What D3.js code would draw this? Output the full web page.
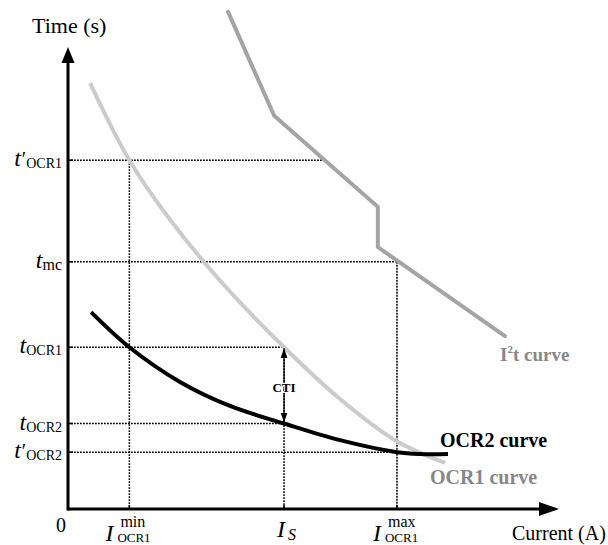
<!DOCTYPE html>
<html>
<head>
<meta charset="utf-8">
<script src="https://cdn.jsdelivr.net/npm/d3@7"></script>
<style>
  body { margin: 0; background: #fff; }
  svg { display: block; font-family: "Liberation Serif", "Times New Roman", serif; }
</style>
</head>
<body>
<div id="chart"></div>
<script>
// Characteristic curves (current in %, time in %, both relative units)
const ocr2Curve = [[4.7, 42.6], [12.5, 35], [22.8, 27.5], [33, 22.3], [44, 18.5], [55.4, 14.9], [67, 12.3], [71.7, 11.9], [77.4, 11.9]];
const ocr1Curve = [[4.5, 92.2], [12.5, 75.5], [20.8, 62.6], [31, 49.4], [44, 35], [55.4, 23.8], [66.6, 14.9], [76.8, 10.0]];
const i2tCurve = [[32.6, 107.6], [42, 85.1], [63.1, 65.4], [63.1, 56.7], [89, 37.4]];

// y ticks: t'OCR1, tmc, tOCR1, tOCR2, t'OCR2
const yTickVals = [75.5, 53.5, 35, 18.5, 12.3];
const yTickSubs = ["OCR1", "mc", "OCR1", "OCR2", "OCR2"];
const yTickPrime = [true, false, false, false, true];

// x ticks: Imin, Is, Imax
const xTickVals = [12.5, 44, 67];
const xTickSups = ["min", "", "max"];
const xTickSubs = ["OCR1", "S", "OCR1"];

// dotted guides: horizontal [time, current end], vertical [current, time start]
const hGuides = [[75.5, 52.3], [53.5, 67], [35, 44], [18.5, 44], [12.3, 67]];
const vGuides = [[12.5, 75.5], [44, 35], [67, 53.5]];

const W = 608, H = 545;
const svg = d3.select("#chart").append("svg").attr("width", W).attr("height", H);

const x = d3.scaleLinear().domain([0, 100]).range([68, 559]);
const y = d3.scaleLinear().domain([0, 100]).range([509, 47]);

// dotted guide lines
const dots = svg.append("g").attr("stroke", "#000").attr("stroke-width", 1.5).attr("stroke-dasharray", "1.8,1.2");
hGuides.forEach(function (d) {
    dots.append("line").attr("x1", x(0)).attr("x2", x(d[1])).attr("y1", y(d[0])).attr("y2", y(d[0]));
});
vGuides.forEach(function (d) {
    dots.append("line").attr("x1", x(d[0])).attr("x2", x(d[0])).attr("y1", y(d[1])).attr("y2", y(0));
});

// curves
const line = d3.line().x(d => x(d[0])).y(d => y(d[1]));
const smooth = d3.line().x(d => x(d[0])).y(d => y(d[1])).curve(d3.curveCatmullRom.alpha(0.5));

svg.append("path").datum(i2tCurve)
    .attr("fill", "none").attr("stroke", "#a4a4a4").attr("stroke-width", 4)
    .attr("stroke-linejoin", "miter").attr("stroke-linecap", "round").attr("d", line);

svg.append("path").datum(ocr1Curve)
    .attr("fill", "none").attr("stroke", "#cbcbcb").attr("stroke-width", 4).attr("d", smooth);

svg.append("path").datum(ocr2Curve)
    .attr("fill", "none").attr("stroke", "#000").attr("stroke-width", 4).attr("d", smooth);

// axes
svg.append("line").attr("x1", x(0)).attr("x2", x(100) - 18).attr("y1", y(0)).attr("y2", y(0))
    .attr("stroke", "#000").attr("stroke-width", 3);
svg.append("path")
    .attr("d", `M${x(100)},${y(0)} L${x(100) - 20},${y(0) - 7} L${x(100) - 20},${y(0) + 7} Z`);
svg.append("line").attr("x1", x(0)).attr("x2", x(0)).attr("y1", y(0) + 1.5).attr("y2", y(100) + 14)
    .attr("stroke", "#000").attr("stroke-width", 3);
svg.append("path")
    .attr("d", `M${x(0)},${y(100)} L${x(0) - 6.5},${y(100) + 16} L${x(0) + 6.5},${y(100) + 16} Z`);

// tick stubs
yTickVals.forEach(function (v) {
    svg.append("line").attr("x1", x(0)).attr("x2", x(0) + 5).attr("y1", y(v)).attr("y2", y(v))
        .attr("stroke", "#000").attr("stroke-width", 1.5);
});
xTickVals.forEach(function (v) {
    svg.append("line").attr("x1", x(v)).attr("x2", x(v)).attr("y1", y(0)).attr("y2", y(0) - 4)
        .attr("stroke", "#000").attr("stroke-width", 1.5);
});

// y tick labels
yTickVals.forEach(function (v, i) {
    const t = svg.append("text").attr("x", 62).attr("y", y(v) + 6).attr("text-anchor", "end");
    t.append("tspan").attr("font-style", "italic").attr("font-size", 24).text("t");
    if (yTickPrime[i]) t.append("tspan").attr("font-size", 20).attr("dx", 1).text("′");
    t.append("tspan").attr("font-size", yTickSubs[i] === "mc" ? 16 : 14).attr("dy", 2).text(yTickSubs[i]);
});

// x tick labels
xTickVals.forEach(function (v, i) {
    const g = svg.append("g").attr("transform", `translate(${x(v)},0)`);
    if (xTickSups[i]) {
        g.append("text").attr("x", -24).attr("y", 541).attr("font-style", "italic").attr("font-size", 24).text("I");
        g.append("text").attr("x", -9).attr("y", 527).attr("font-size", 16).text(xTickSups[i]);
        g.append("text").attr("x", -12).attr("y", 542).attr("font-size", 13).text(xTickSubs[i]);
    } else {
        g.append("text").attr("x", -7).attr("y", 537).attr("font-style", "italic").attr("font-size", 24).text("I");
        g.append("text").attr("x", 4).attr("y", 540).attr("font-style", "italic").attr("font-size", 16).text(xTickSubs[i]);
    }
});

svg.append("text").attr("x", x(0) - 7).attr("y", 532).attr("text-anchor", "middle").attr("font-size", 20).text("0");

// axis titles
svg.append("text").attr("x", 32).attr("y", 33).attr("font-size", 22).text("Time (s)");
svg.append("text").attr("x", 512).attr("y", 540).attr("font-size", 20).text("Current (A)");

// CTI arrow between tOCR1 and tOCR2 at Is
const defs = svg.append("defs");
defs.append("marker").attr("id", "tip").attr("viewBox", "0 0 10 10")
    .attr("refX", 10).attr("refY", 5).attr("markerWidth", 10).attr("markerHeight", 10)
    .attr("markerUnits", "userSpaceOnUse").attr("orient", "auto-start-reverse")
    .append("path").attr("d", "M0,1.5 L10,5 L0,8.5 Z").attr("fill", "#000");

svg.append("line")
    .attr("x1", x(44)).attr("x2", x(44)).attr("y1", y(35) + 1).attr("y2", y(18.5) - 1)
    .attr("stroke", "#000").attr("stroke-width", 1.3)
    .attr("marker-start", "url(#tip)").attr("marker-end", "url(#tip)");
svg.append("text").attr("x", x(44)).attr("y", 392).attr("text-anchor", "middle")
    .attr("font-size", 13).attr("font-weight", "bold")
    .attr("stroke", "#fff").attr("stroke-width", 2).attr("paint-order", "stroke")
    .text("CTI");

// curve labels
const i2tLabel = svg.append("text").attr("x", 500).attr("y", 361)
    .attr("font-size", 19).attr("font-weight", "bold").attr("fill", "#878787");
i2tLabel.append("tspan").text("I");
i2tLabel.append("tspan").attr("font-size", 11).attr("dy", -8).text("2");
i2tLabel.append("tspan").attr("dy", 8).text("t curve");

svg.append("text").attr("x", 440).attr("y", 447)
    .attr("font-size", 20).attr("font-weight", "bold").attr("fill", "#000").text("OCR2 curve");
svg.append("text").attr("x", 430).attr("y", 484)
    .attr("font-size", 20).attr("font-weight", "bold").attr("fill", "#878787").text("OCR1 curve");
</script>
</body>
</html>
